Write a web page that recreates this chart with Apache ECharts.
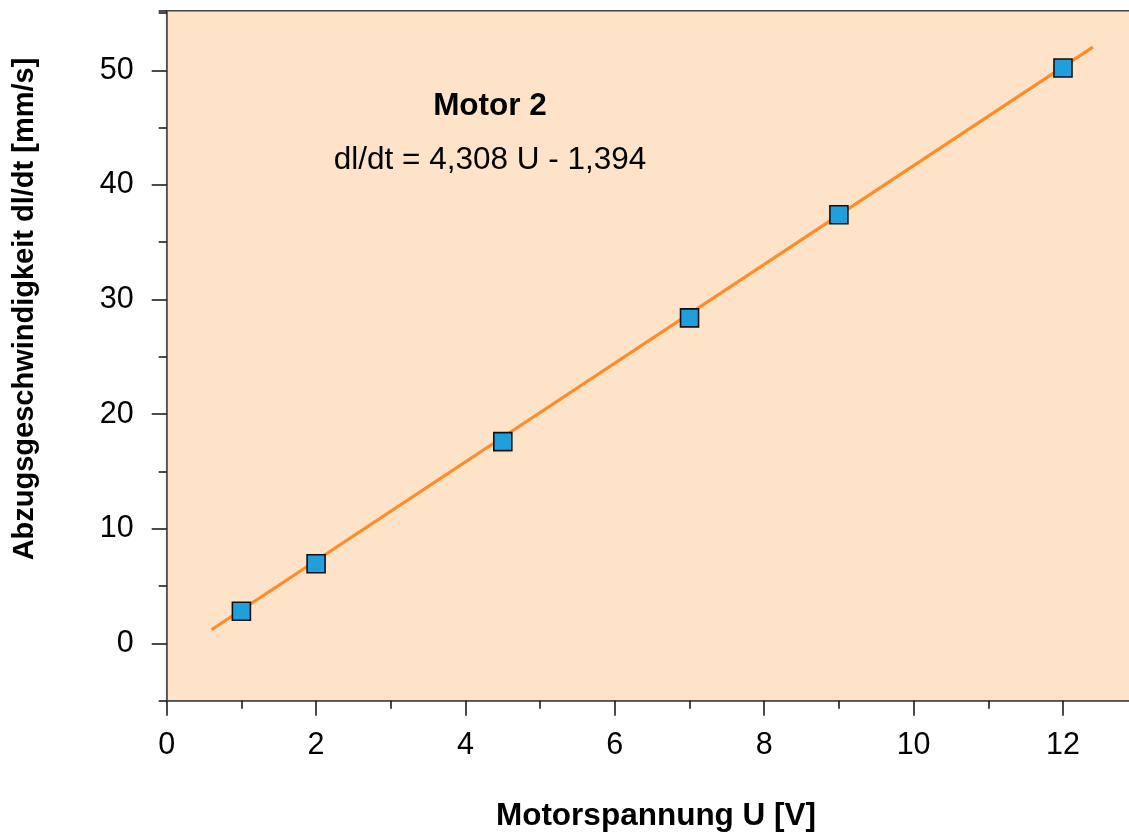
<!DOCTYPE html>
<html>
<head>
<meta charset="utf-8">
<script src="https://cdn.jsdelivr.net/npm/echarts@6/dist/echarts.min.js"></script>
<style>
  html, body { margin: 0; padding: 0; background: #ffffff; }
  #chart { width: 1129px; height: 834px; }
</style>
</head>
<body>
<div id="chart"></div>
<script>
// Measured motor voltages [V] and pull-off speeds [mm/s]
const voltages = [1, 2, 4.5, 7, 9, 12];
const speeds = [2.8, 6.95, 17.6, 28.4, 37.4, 50.2];

// Linear fit dl/dt = slope * U + intercept, drawn over this voltage span
const fitSlope = 4.308;
const fitIntercept = -1.394;
const fitRange = [0.6, 12.4];

// Axis ranges and tick steps
const xRange = [0, 12.92];
const yRange = [-5, 55.2];
const yLabelRange = [0, 50];
const xMajorStep = 2, xMinorStep = 1;
const yMajorStep = 10, yMinorStep = 5;

const titleText = 'Motor 2';
const equationText = 'dl/dt = 4,308 U - 1,394';
const xTitle = 'Motorspannung U [V]';
const yTitle = 'Abzugsgeschwindigkeit dl/dt [mm/s]';

const FONT = '"Liberation Sans", Arial, Helvetica, sans-serif';

const chart = echarts.init(document.getElementById('chart'), null, { renderer: 'canvas' });

// plot area geometry
const plotLeft = 166.7, plotTop = 10.7, plotBottom = 700.7, plotWidth = 965;
const pxPerY = (plotBottom - plotTop) / (yRange[1] - yRange[0]);
const labelGridTop = plotBottom - (yLabelRange[1] - yRange[0]) * pxPerY;
const labelGridBottom = plotBottom - (yLabelRange[0] - yRange[0]) * pxPerY;

const scatterData = voltages.map((u, i) => [u, speeds[i]]);
const fitData = fitRange.map(u => [u, fitSlope * u + fitIntercept]);

const labelStyle = { color: '#000', fontFamily: FONT, fontSize: 30.5 };

chart.setOption({
  animation: false,
  backgroundColor: '#ffffff',
  title: {
    text: titleText,
    subtext: equationText,
    left: 485,
    top: 85,
    textAlign: 'center',
    itemGap: 22,
    textStyle: { fontFamily: FONT, fontSize: 31.5, fontWeight: 'bold', color: '#000' },
    subtextStyle: { fontFamily: FONT, fontSize: 31.5, color: '#000' }
  },
  grid: [
    {
      left: plotLeft, top: plotTop, width: plotWidth, height: plotBottom - plotTop,
      outerBoundsMode: 'none', containLabel: false,
      show: true, backgroundColor: '#FEE3C8', borderColor: '#444', borderWidth: 1.5
    },
    {
      left: plotLeft, top: labelGridTop, width: plotWidth, height: labelGridBottom - labelGridTop,
      outerBoundsMode: 'none', containLabel: false,
      show: false
    }
  ],
  xAxis: [
    {
      gridIndex: 0, type: 'value', position: 'bottom',
      min: xRange[0], max: xRange[1], interval: xMinorStep,
      axisLine: { show: true, onZero: false, lineStyle: { color: '#555', width: 1.5 } },
      axisTick: { show: true, inside: false, length: 8, lineStyle: { color: '#111', width: 1.5 } },
      axisLabel: { show: false },
      splitLine: { show: false }
    },
    {
      gridIndex: 0, type: 'value', position: 'bottom',
      min: xRange[0], max: xRange[1], interval: xMajorStep,
      axisLine: { show: false, onZero: false },
      axisTick: { show: true, inside: false, length: 15, lineStyle: { color: '#111', width: 1.5 } },
      axisLabel: Object.assign({ show: true, margin: 29,
        formatter: v => (v % xMajorStep === 0 && v <= 12) ? String(v) : '' }, labelStyle),
      splitLine: { show: false }
    },
    {
      gridIndex: 1, type: 'value', show: false,
      min: xRange[0], max: xRange[1]
    }
  ],
  yAxis: [
    {
      gridIndex: 0, type: 'value', position: 'left',
      min: yRange[0], max: yRange[1], interval: yMinorStep,
      axisLine: { show: true, onZero: false, lineStyle: { color: '#555', width: 1.5 } },
      axisTick: { show: true, inside: false, length: 8, lineStyle: { color: '#111', width: 1.5 } },
      axisLabel: { show: false },
      splitLine: { show: false }
    },
    {
      gridIndex: 1, type: 'value', position: 'left',
      min: yLabelRange[0], max: yLabelRange[1], interval: yMajorStep,
      axisLine: { show: false, onZero: false },
      axisTick: { show: true, inside: false, length: 15, lineStyle: { color: '#111', width: 1.5 } },
      axisLabel: Object.assign({ show: true, margin: 33 }, labelStyle),
      splitLine: { show: false }
    }
  ],
  graphic: [
    {
      type: 'text',
      x: 656, y: 816,
      style: {
        text: xTitle, fontFamily: FONT, fontSize: 31.5, fontWeight: 'bold', fill: '#000',
        align: 'center', verticalAlign: 'middle'
      }
    },
    {
      type: 'text',
      x: 25, y: 309,
      rotation: Math.PI / 2,
      style: {
        text: yTitle, fontFamily: FONT, fontSize: 29, fontWeight: 'bold', fill: '#000',
        align: 'center', verticalAlign: 'middle'
      }
    }
  ],
  series: [
    {
      type: 'line',
      xAxisIndex: 0, yAxisIndex: 0,
      data: fitData,
      showSymbol: false,
      symbol: 'none',
      lineStyle: { color: '#FF8C28', width: 3.2 },
      z: 2
    },
    {
      type: 'scatter',
      xAxisIndex: 0, yAxisIndex: 0,
      data: scatterData,
      symbol: 'rect',
      symbolSize: 18,
      itemStyle: { color: '#1FA0DC', borderColor: '#111', borderWidth: 1.6, opacity: 1 },
      z: 3
    }
  ]
});
</script>
</body>
</html>
